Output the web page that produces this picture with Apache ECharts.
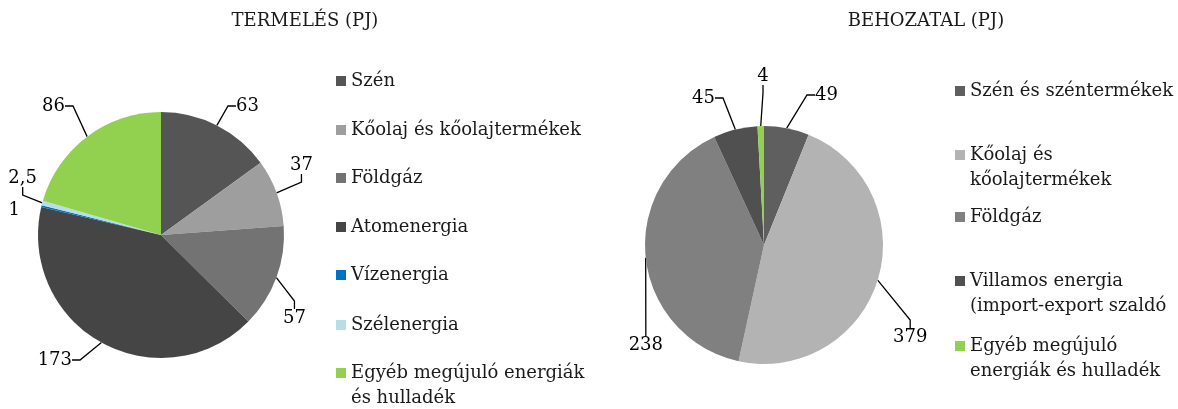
<!DOCTYPE html>
<html>
<head>
<meta charset="utf-8">
<script src="https://cdn.jsdelivr.net/npm/echarts@6/dist/echarts.min.js"></script>
<style>
html,body{margin:0;padding:0;background:#ffffff;}
#chart{width:1178px;height:409px;}
</style>
</head>
<body>
<div id="chart"></div>
<script>
// ---------- DATA ----------
// TERMELÉS (PJ)
const prodTitle = 'TERMELÉS (PJ)';
const prodNames = ['Szén', 'Kőolaj és kőolajtermékek', 'Földgáz', 'Atomenergia', 'Vízenergia', 'Szélenergia', 'Egyéb megújuló energiák és hulladék'];
const prodValues = [63, 37, 57, 173, 1, 2.5, 86];
const prodLegendText = ['Szén', 'Kőolaj és kőolajtermékek', 'Földgáz', 'Atomenergia', 'Vízenergia', 'Szélenergia', 'Egyéb megújuló energiák\nés hulladék'];

// BEHOZATAL (PJ)
const impTitle = 'BEHOZATAL (PJ)';
const impNames = ['Szén és széntermékek', 'Kőolaj és kőolajtermékek', 'Földgáz', 'Villamos energia (import-export szaldó', 'Egyéb megújuló energiák és hulladék'];
// slice sizes as drawn in the reference picture
const impValues = [49, 379, 318, 48, 7];
// value labels as printed in the reference picture
const impLabels = ['49', '379', '238', '45', '4'];
const impLegendText = ['Szén és széntermékek', 'Kőolaj és\nkőolajtermékek', 'Földgáz', 'Villamos energia\n(import-export szaldó', 'Egyéb megújuló\nenergiák és hulladék'];

// ---------- STYLE / LAYOUT ----------
const FONT = '"DejaVu Serif", "Liberation Serif", serif';
const FS = 18;
const prodColors = ['#555555', '#9e9e9e', '#737373', '#454545', '#0070c0', '#b7dde8', '#92d050'];
const impColors = ['#5f5f5f', '#b3b3b3', '#808080', '#505050', '#92d050'];
const prodCenter = [161, 235], prodRadius = 123;
const impCenter = [764, 245], impRadius = 119;
// label anchor offsets from pie centre [dx, dy, align]
const prodLabelPos = [[71, -129, 'left'], [125, -70, 'left'], [118, 83, 'left'], [-85, 125, 'right'], [-137, -25, 'right'], [-120, -57, 'right'], [-92, -129, 'right']];
const prodShowLine = [true, true, true, true, false, true, true];
const impLabelPos = [[47, -150, 'left'], [125, 92, 'left'], [-97, 100, 'right'], [-45, -147, 'right'], [-1, -169, 'center']];
// legend: left x, first-line centre y of every entry
const prodLegendX = 336, prodLegendY = [81, 130, 178, 227, 275, 325, 373];
const impLegendX = 955, impLegendY = [91, 155, 217, 281, 346];
const LH = 25;
const SQ = 10;

const fmtNum = v => String(v).replace('.', ',');

function makeLegends(names, texts, colors, x, ys) {
  return names.map((n, i) => {
    const lines = texts[i].split('\n').length;
    // icon box grows with the number of lines so that the square sits on the first line
    const h = SQ + (lines - 1) * LH;
    const icon = 'path://M0,0L' + SQ + ',0L' + SQ + ',' + SQ + 'L0,' + SQ + 'Z' +
      (lines > 1 ? 'M0,' + (h - 0.01) + 'L0.01,' + (h - 0.01) + 'L0.01,' + h + 'Z' : '');
    return {
      orient: 'vertical',
      left: x,
      top: ys[i] - LH / 2,
      padding: 0,
      itemWidth: SQ,
      itemHeight: h,
      itemGap: 0,
      icon: icon,
      selectedMode: false,
      itemStyle: { borderWidth: 0 },
      data: [{ name: n, icon: icon, itemStyle: { color: colors[i], borderWidth: 0 } }],
      formatter: () => texts[i],
      textStyle: { fontFamily: FONT, fontSize: FS, color: '#1a1a1a', lineHeight: LH }
    };
  });
}

function makePie(names, values, colors, center, radius, labelTexts, labelPos, showLine) {
  return {
    type: 'pie',
    center: center,
    radius: radius,
    startAngle: 90,
    clockwise: true,
    avoidLabelOverlap: false,
    animation: false,
    itemStyle: { borderWidth: 0 },
    label: {
      show: true,
      position: 'outside',
      fontFamily: FONT,
      fontSize: FS,
      color: '#000',
      padding: [2, 4],
      formatter: p => labelTexts[p.dataIndex]
    },
    labelLine: {
      show: true, length: 10, length2: 8, smooth: false,
      lineStyle: { color: '#000', width: 1.3 }
    },
    labelLayout: p => {
      const a = labelPos[p.dataIndex];
      return { x: center[0] + a[0], y: center[1] + a[1], align: a[2], verticalAlign: 'middle' };
    },
    emphasis: { disabled: true },
    data: values.map((v, i) => ({
      name: names[i],
      value: v,
      itemStyle: { color: colors[i] },
      labelLine: { show: showLine ? showLine[i] : true }
    }))
  };
}

const chart = echarts.init(document.getElementById('chart'), null, { renderer: 'canvas' });
chart.setOption({
  backgroundColor: '#ffffff',
  animation: false,
  title: [
    { text: prodTitle, left: 305, top: 11, textAlign: 'center', padding: 0,
      textStyle: { fontFamily: FONT, fontSize: FS, fontWeight: 'normal', color: '#1a1a1a', lineHeight: 20 } },
    { text: impTitle, left: 926, top: 11, textAlign: 'center', padding: 0,
      textStyle: { fontFamily: FONT, fontSize: FS, fontWeight: 'normal', color: '#1a1a1a', lineHeight: 20 } }
  ],
  legend: [].concat(
    makeLegends(prodNames, prodLegendText, prodColors, prodLegendX, prodLegendY),
    makeLegends(impNames, impLegendText, impColors, impLegendX, impLegendY)
  ),
  series: [
    makePie(prodNames, prodValues, prodColors, prodCenter, prodRadius, prodValues.map(fmtNum), prodLabelPos, prodShowLine),
    makePie(impNames, impValues, impColors, impCenter, impRadius, impLabels, impLabelPos, null)
  ]
});
</script>
</body>
</html>
